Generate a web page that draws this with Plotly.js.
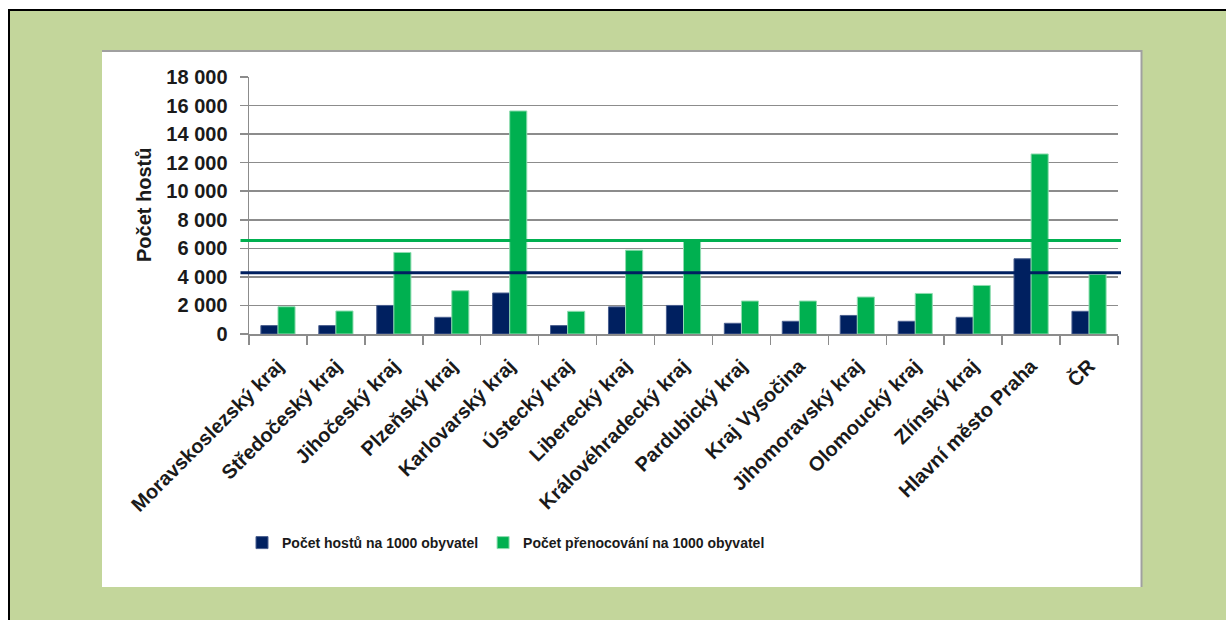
<!DOCTYPE html>
<html>
<head>
<meta charset="utf-8">
<script src="https://cdn.plot.ly/plotly-3.0.1.min.js"></script>
<style>
html,body{margin:0;padding:0;background:#fff;overflow:hidden;width:1226px;height:620px;}
#frame{position:absolute;left:8px;top:9px;width:1300px;height:700px;background:#C3D69B;border-left:2px solid #000;border-top:2px solid #000;}
#chart{position:absolute;left:0;top:0;width:1226px;height:620px;}
</style>
</head>
<body>
<div id="frame"></div>
<div id="chart"></div>
<script>
// ---- data ----
const categories = [
  "Moravskoslezský kraj", "Středočeský kraj", "Jihočeský kraj", "Plzeňský kraj",
  "Karlovarský kraj", "Ústecký kraj", "Liberecký kraj", "Královéhradecký kraj",
  "Pardubický kraj", "Kraj Vysočina", "Jihomoravský kraj", "Olomoucký kraj",
  "Zlínský kraj", "Hlavní město Praha", "ČR"
];
const hostePer1000 = [590, 590, 2000, 1170, 2870, 590, 1900, 2000, 750, 890, 1300, 890, 1170, 5270, 1590];
const prenocPer1000 = [1910, 1610, 5710, 3030, 15620, 1590, 5870, 6500, 2310, 2310, 2590, 2840, 3400, 12610, 4170];
const seriesNames = ["Počet hostů na 1000 obyvatel", "Počet přenocování na 1000 obyvatel"];
const refLineHoste = 4290;
const refLinePrenoc = 6550;
const yTickVals = [0, 2000, 4000, 6000, 8000, 10000, 12000, 14000, 16000, 18000];

// ---- layout geometry ----
const W = 1226, H = 620;
const M = {l: 249, r: 108, t: 77, b: 286};
const PW = W - M.l - M.r, PH = H - M.t - M.b;
const px2x = p => (p - M.l) / PW;
const py2y = p => (H - M.b - p) / PH;

const navy = "#002060", green = "#00B050";
const bold = {family: "Liberation Sans, Arial, sans-serif", size: 20, color: "#1a1a1a", weight: "bold"};

const traces = [
  {type: "bar", name: seriesNames[0], x: categories, y: hostePer1000,
   marker: {color: navy, line: {color: "#4a5f8f", width: 1}}},
  {type: "bar", name: seriesNames[1], x: categories, y: prenocPer1000,
   marker: {color: green, line: {color: "#8fdcb0", width: 1}}}
];

const layout = {
  width: W, height: H,
  margin: M,
  paper_bgcolor: "rgba(0,0,0,0)",
  plot_bgcolor: "rgba(0,0,0,0)",
  separators: ", ",
  barmode: "group",
  bargap: 0.41,
  bargroupgap: 0,
  showlegend: true,
  legend: {
    orientation: "h", x: px2x(242), xanchor: "left", y: py2y(543), yanchor: "middle",
    bgcolor: "rgba(0,0,0,0)",
    font: {family: "Liberation Sans, Arial, sans-serif", size: 14, color: "#1a1a1a", weight: "bold"}
  },
  xaxis: {
    type: "category", tickangle: -45, tickfont: bold,
    showline: true, linecolor: "#8c8c8c", linewidth: 1.5,
    ticks: "outside", tickson: "boundaries", ticklen: 9, tickcolor: "#8c8c8c", tickwidth: 1.5,
    ticklabelstandoff: 11,
    showgrid: false, fixedrange: true
  },
  yaxis: {
    range: [0, 18000], tickvals: yTickVals, tickformat: ",d", tickfont: bold,
    showline: true, linecolor: "#8c8c8c", linewidth: 1.5,
    ticks: "outside", ticklen: 8, tickcolor: "#8c8c8c", tickwidth: 1.5,
    ticklabelstandoff: 8,
    showgrid: true, gridcolor: "#8c8c8c", gridwidth: 1.5, zeroline: false, fixedrange: true
  },
  annotations: [{
    text: "Počet hostů", textangle: -90, showarrow: false,
    xref: "paper", yref: "paper", x: px2x(144), y: py2y(205),
    xanchor: "center", yanchor: "middle",
    font: bold
  }],
  shapes: [
    {type: "rect", layer: "below", xref: "paper", yref: "paper",
     x0: px2x(102), x1: px2x(1141), y0: py2y(50), y1: py2y(587),
     fillcolor: "#ffffff", line: {width: 0}},
    {type: "line", layer: "below", xref: "paper", yref: "paper",
     x0: px2x(102), x1: px2x(1142), y0: py2y(51), y1: py2y(51),
     line: {color: "#a0a0a0", width: 2}},
    {type: "line", layer: "below", xref: "paper", yref: "paper",
     x0: px2x(1141.5), x1: px2x(1141.5), y0: py2y(50), y1: py2y(587),
     line: {color: "#a0a0a0", width: 2}},
    {type: "line", layer: "above", xref: "paper", yref: "y",
     x0: px2x(240.5), x1: px2x(1121), y0: refLinePrenoc, y1: refLinePrenoc,
     line: {color: green, width: 3}},
    {type: "line", layer: "above", xref: "paper", yref: "y",
     x0: px2x(240.5), x1: px2x(1121), y0: refLineHoste, y1: refLineHoste,
     line: {color: navy, width: 3}}
  ]
};

Plotly.newPlot("chart", traces, layout, {displayModeBar: false, staticPlot: true});
</script>
</body>
</html>
